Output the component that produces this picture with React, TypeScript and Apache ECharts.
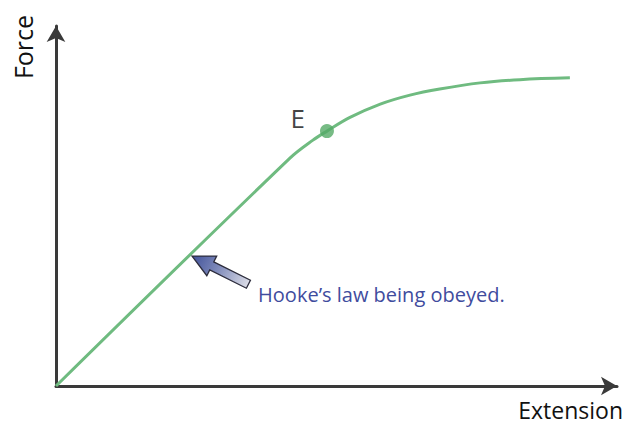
import React, { useEffect, useRef } from "react";
import * as echarts from "echarts";

// Curve values (arbitrary units: axes span 0..100)
const extension = [0, 41.7, 45.8, 48.3, 52.4, 57.8, 63.1, 68.4, 75.6, 82.7, 91.6];
const force = [0, 63.3, 68.3, 70.8, 74.6, 78.3, 80.8, 82.5, 84.2, 85.1, 85.6];

// Elastic limit point E
const elasticLimit = [48.3, 70.8];
const elasticLabel = "E";

// Annotation target on the linear part
const hookePoint = [23.9, 36.1];
const hookeText = "Hooke’s law being obeyed.";

const xAxisTitle = "Extension";
const yAxisTitle = "Force";

export default function App() {
  const ref = useRef<HTMLDivElement>(null);
  useEffect(() => {
    if (!ref.current) return;
    const chart = echarts.init(ref.current, undefined, { renderer: "svg" });
    const axisLine = {
      show: true,
      symbol: ["none", "arrow"],
      symbolSize: [14, 16],
      lineStyle: { color: "#3a3a3a", width: 3 },
    };
    chart.setOption({
      animation: false,
      backgroundColor: "#ffffff",
      grid: { left: 56, right: 13, top: 26, bottom: 40 },
      xAxis: {
        type: "value",
        min: 0,
        max: 100,
        axisLine,
        axisTick: { show: false },
        axisLabel: { show: false },
        splitLine: { show: false },
      },
      yAxis: {
        type: "value",
        min: 0,
        max: 100,
        axisLine,
        axisTick: { show: false },
        axisLabel: { show: false },
        splitLine: { show: false },
      },
      series: [
        {
          type: "line",
          data: extension.map((x, i) => [x, force[i]]),
          smooth: 0.35,
          symbol: "none",
          lineStyle: { color: "#6fbb80", width: 3 },
          z: 2,
        },
        {
          type: "scatter",
          data: [elasticLimit],
          symbolSize: 14,
          itemStyle: { color: "#55aa66" },
          label: {
            show: true,
            formatter: elasticLabel,
            position: "left",
            distance: 5,
            offset: [-10, -13],
            color: "#111",
            fontFamily: "Open Sans",
            fontSize: 26,
          },
          z: 3,
        },
      ],
    });

    const tip = chart.convertToPixel({ gridIndex: 0 }, hookePoint) as number[];
    const ang = Math.atan2(28, 56);
    const c = Math.cos(ang);
    const s = Math.sin(ang);
    const local = [
      [0, 0],
      [22, -11],
      [22, -4.5],
      [63, -4.5],
      [63, 4.5],
      [22, 4.5],
      [22, 11],
    ];
    const pts = local.map(([u, v]) => [tip[0] + 2 + u * c - v * s, tip[1] + u * s + v * c]);
    const tail = [tip[0] + 63 * c, tip[1] + 63 * s];

    chart.setOption({
      graphic: [
        {
          type: "polygon",
          shape: { points: pts },
          style: {
            fill: {
              type: "linear",
              x: tip[0],
              y: tip[1],
              x2: tail[0],
              y2: tail[1],
              global: true,
              colorStops: [
                { offset: 0, color: "#3e4f98" },
                { offset: 0.45, color: "#7a86b8" },
                { offset: 1, color: "#d6d8e4" },
              ],
            },
            stroke: "#2c2c3c",
            lineWidth: 1.3,
          },
          z: 10,
        },
        {
          type: "text",
          x: tip[0] + 68,
          y: tip[1] + 38,
          style: {
            text: hookeText,
            fill: "#3f4c9e",
            font: '20px "Open Sans"',
            textAlign: "left",
            textVerticalAlign: "middle",
          },
          z: 10,
        },
        {
          type: "text",
          x: 23,
          y: 47,
          rotation: Math.PI / 2,
          style: {
            text: yAxisTitle,
            fill: "#111",
            font: '25px "Open Sans"',
            textAlign: "center",
            textVerticalAlign: "middle",
          },
        },
        {
          type: "text",
          x: 623,
          y: 410,
          style: {
            text: xAxisTitle,
            fill: "#111",
            font: '23px "Open Sans"',
            textAlign: "right",
            textVerticalAlign: "middle",
          },
        },
      ],
    });
    return () => chart.dispose();
  }, []);
  return <div ref={ref} style={{ width: 630, height: 426, position: "fixed", left: 0, top: 0 }} />;
}
